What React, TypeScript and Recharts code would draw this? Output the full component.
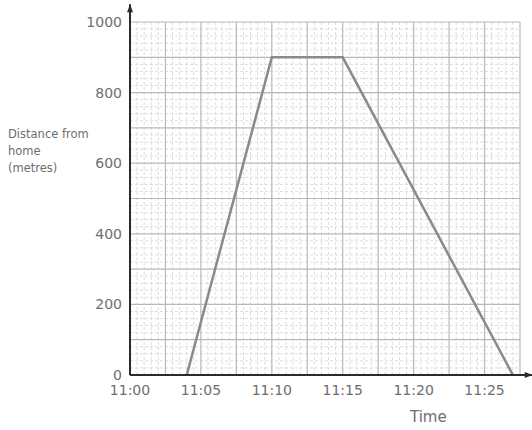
import React from 'react';
import { LineChart, Line, XAxis, YAxis, ReferenceLine } from 'recharts';

// minutes after 11:00
const times = [4, 10, 15, 27];
const distances = [0, 900, 900, 0];

const xTicks = [0, 5, 10, 15, 20, 25];
const xTickLabels = ['11:00', '11:05', '11:10', '11:15', '11:20', '11:25'];
const yTicks = [0, 200, 400, 600, 800, 1000];

const xMax = 27.5;
const majorX = Array.from({ length: 12 }, (_, i) => i * 2.5);
const minorX = Array.from({ length: 56 }, (_, i) => i * 0.5).filter((v) => v % 2.5 !== 0);
const majorY = Array.from({ length: 11 }, (_, i) => i * 100);
const minorY = Array.from({ length: 51 }, (_, i) => i * 20).filter((v) => v % 100 !== 0);

const data = times.map((t, i) => ({ t, d: distances[i] }));

const font = '"DejaVu Sans", sans-serif';
const textColor = '#6e6e6e';

const arrowLine = (dir: 'up' | 'right') => (p: any) => {
  const { x1, y1, x2, y2 } = p;
  const tipX = x2, tipY = y2;
  const head =
    dir === 'up'
      ? `${tipX},${tipY} ${tipX - 3},${tipY + 8} ${tipX + 3},${tipY + 8}`
      : `${tipX},${tipY} ${tipX - 8},${tipY - 3} ${tipX - 8},${tipY + 3}`;
  return (
    <g>
      <line x1={x1} y1={y1} x2={x2} y2={y2} stroke="#2a2a2a" strokeWidth={2} />
      <polygon points={head} fill="#2a2a2a" />
    </g>
  );
};

export default function App() {
  return (
    <div style={{ position: 'absolute', left: 0, top: 0, width: 532, height: 430, background: '#fff', fontFamily: font }}>
      <LineChart
        width={532}
        height={430}
        data={data}
        margin={{ top: 22, right: 12, bottom: 25, left: 70 }}
      >
        <XAxis
          type="number"
          dataKey="t"
          domain={[0, xMax]}
          ticks={xTicks}
          tickFormatter={(v: number) => xTickLabels[xTicks.indexOf(v)]}
          axisLine={false}
          tickLine={false}
          tickSize={0}
          tickMargin={10}
          height={30}
          tick={{ fill: textColor, fontSize: 14, fontFamily: font }}
          allowDataOverflow
        />
        <YAxis
          type="number"
          domain={[0, 1000]}
          ticks={yTicks}
          axisLine={false}
          tickLine={false}
          tickSize={0}
          tickMargin={8}
          width={60}
          tick={{ fill: textColor, fontSize: 14, fontFamily: font }}
          allowDataOverflow
        />
        {minorY.map((v) => (
          <ReferenceLine key={'my' + v} y={v} stroke="#d4d4d4" strokeWidth={0.8} strokeDasharray="3 2" />
        ))}
        {minorX.map((v) => (
          <ReferenceLine key={'mx' + v} x={v} stroke="#d4d4d4" strokeWidth={0.8} strokeDasharray="3 2" />
        ))}
        {majorY.map((v) => (
          <ReferenceLine key={'Y' + v} y={v} stroke="#b8b8b8" strokeWidth={1.2} />
        ))}
        {majorX.map((v) => (
          <ReferenceLine key={'X' + v} x={v} stroke="#b8b8b8" strokeWidth={1.2} />
        ))}
        <Line
          type="linear"
          dataKey="d"
          stroke="#8a8a8a"
          strokeWidth={2.5}
          dot={false}
          activeDot={false}
          isAnimationActive={false}
        />
        <ReferenceLine
          segment={[{ x: 0, y: 0 }, { x: 0, y: 1050 }]}
          ifOverflow="visible"
          shape={arrowLine('up')}
        />
        <ReferenceLine
          segment={[{ x: 0, y: 0 }, { x: 28.4, y: 0 }]}
          ifOverflow="visible"
          shape={arrowLine('right')}
        />
      </LineChart>
      <div
        style={{
          position: 'absolute',
          left: 8,
          top: 126,
          fontSize: 11.5,
          lineHeight: '17px',
          color: textColor,
          fontFamily: font,
        }}
      >
        Distance from
        <br />
        home
        <br />
        (metres)
      </div>
      <div
        style={{
          position: 'absolute',
          left: 410,
          top: 408,
          fontSize: 15,
          color: textColor,
          fontFamily: font,
        }}
      >
        Time
      </div>
    </div>
  );
}
